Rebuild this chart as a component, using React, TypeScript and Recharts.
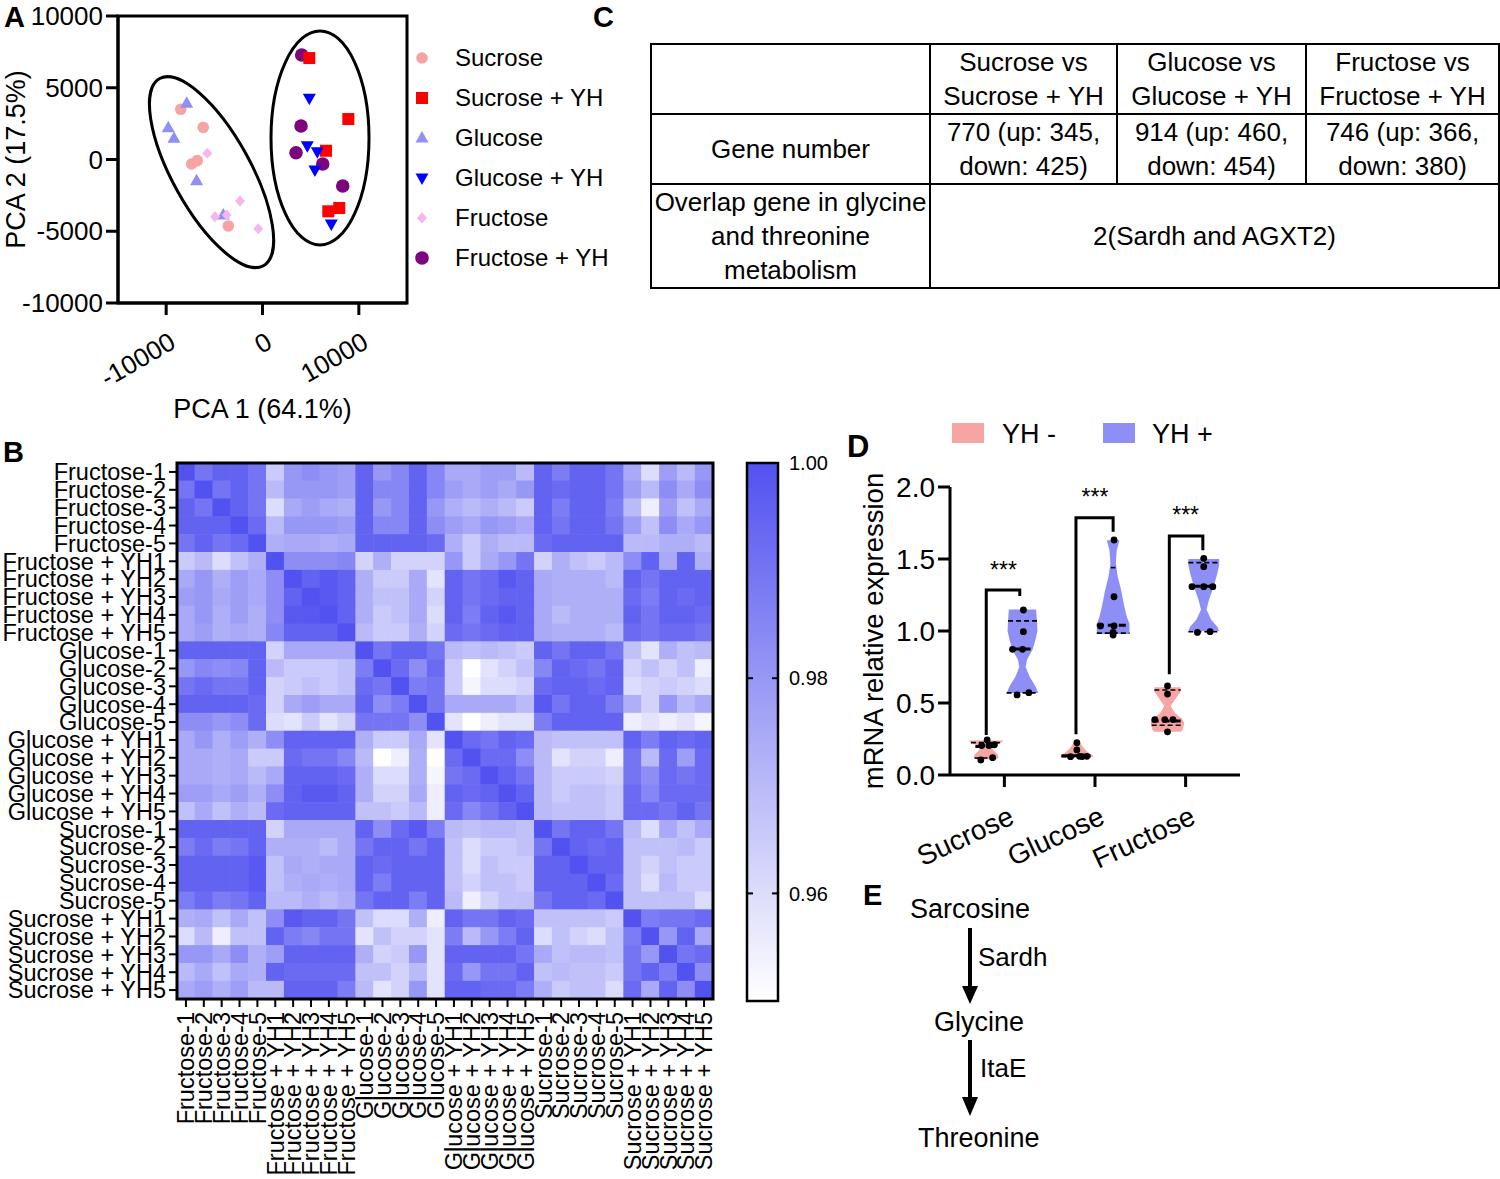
import React from 'react';
import { ScatterChart, Scatter, XAxis, YAxis, Legend } from 'recharts';

const FONT = "'Liberation Sans', Arial, Helvetica, sans-serif";

// ---------------- Panel A : PCA ----------------
const pcaXTicks = [-10000, 0, 10000];
const pcaYTicks = [-10000, -5000, 0, 5000, 10000];
const sucrosePCA = [{ x: -8490, y: 3500 }, { x: -6150, y: 2240 }, { x: -7350, y: -310 }, { x: -6770, y: -80 }, { x: -3550, y: -4630 }];
const sucroseYHPCA = [{ x: 4860, y: 7070 }, { x: 8910, y: 2820 }, { x: 6590, y: 610 }, { x: 6830, y: -3610 }, { x: 7970, y: -3380 }];
const glucosePCA = [{ x: -7870, y: 3920 }, { x: -9780, y: 2220 }, { x: -9190, y: 1480 }, { x: -6840, y: -1480 }, { x: -4070, y: -3870 }];
const glucoseYHPCA = [{ x: 4860, y: 4270 }, { x: 4650, y: 960 }, { x: 5690, y: 540 }, { x: 5440, y: -730 }, { x: 7140, y: -4500 }];
const fructosePCA = [{ x: -5730, y: 430 }, { x: -2340, y: -2890 }, { x: -4930, y: -3990 }, { x: -3720, y: -3870 }, { x: -440, y: -4820 }];
const fructoseYHPCA = [{ x: 4070, y: 7280 }, { x: 4000, y: 2330 }, { x: 3480, y: 470 }, { x: 6250, y: -310 }, { x: 8330, y: -1850 }];
const clusterCentres = [{ id: 0, x: -5290, y: -880 }, { id: 1, x: 5970, y: 1500 }];
const pcaFrame = [{ x: -15000, y: -10000 }, { x: -15000, y: 10000 }, { x: 15000, y: 10000 }, { x: 15000, y: -10000 }, { x: -15000, y: -10000 }];

const pcaSeries = [
  { name: 'Sucrose', data: sucrosePCA, color: '#f6a3a3', marker: 'circle' },
  { name: 'Sucrose + YH', data: sucroseYHPCA, color: '#ff0000', marker: 'square' },
  { name: 'Glucose', data: glucosePCA, color: '#8f8ff5', marker: 'triangle' },
  { name: 'Glucose + YH', data: glucoseYHPCA, color: '#0000ff', marker: 'invTriangle' },
  { name: 'Fructose', data: fructosePCA, color: '#f4b6f0', marker: 'diamond' },
  { name: 'Fructose + YH', data: fructoseYHPCA, color: '#7d067d', marker: 'bigCircle' },
];
const ellipseGeom = [{ rx: 107, ry: 39, rot: 61 }, { rx: 49, ry: 107, rot: 0 }];

// ---------------- Panel B : correlation heatmap ----------------
const sampleLabels = [
  'Fructose-1', 'Fructose-2', 'Fructose-3', 'Fructose-4', 'Fructose-5',
  'Fructose + YH1', 'Fructose + YH2', 'Fructose + YH3', 'Fructose + YH4', 'Fructose + YH5',
  'Glucose-1', 'Glucose-2', 'Glucose-3', 'Glucose-4', 'Glucose-5',
  'Glucose + YH1', 'Glucose + YH2', 'Glucose + YH3', 'Glucose + YH4', 'Glucose + YH5',
  'Sucrose-1', 'Sucrose-2', 'Sucrose-3', 'Sucrose-4', 'Sucrose-5',
  'Sucrose + YH1', 'Sucrose + YH2', 'Sucrose + YH3', 'Sucrose + YH4', 'Sucrose + YH5',
];
const corrMatrix = [
  [1, .990, .995, .995, .990, .965, .980, .983, .980, .978, .995, .980, .985, .995, .985, .975, .975, .978, .978, .970, .995, .988, .995, .995, .990, .975, .960, .978, .970, .980],
  [.990, 1, .990, .995, .990, .970, .980, .980, .980, .978, .995, .985, .985, .995, .985, .978, .975, .978, .975, .980, .995, .993, .995, .995, .990, .978, .970, .983, .975, .983],
  [.995, .990, 1, .995, .990, .960, .975, .978, .975, .973, .995, .980, .985, .995, .980, .973, .970, .973, .970, .965, .995, .988, .995, .995, .988, .970, .955, .978, .968, .975],
  [.995, .995, .995, 1, .993, .970, .980, .980, .980, .978, .995, .985, .985, .995, .983, .978, .975, .980, .978, .975, .995, .990, .995, .995, .990, .978, .968, .983, .975, .980],
  [.990, .995, .990, .993, 1, .973, .975, .975, .973, .975, .995, .995, .995, .995, .993, .973, .965, .973, .970, .970, .993, .995, .995, .995, .995, .970, .970, .973, .973, .970],
  [.965, .970, .960, .968, .973, 1, .983, .983, .983, .985, .963, .973, .963, .963, .963, .980, .965, .975, .980, .990, .963, .973, .968, .965, .970, .983, .995, .975, .995, .973],
  [.975, .980, .973, .978, .975, .983, 1, .995, .998, .995, .973, .965, .965, .975, .958, .995, .990, .993, .998, .995, .975, .973, .973, .973, .970, .995, .990, .995, .995, .995],
  [.978, .980, .975, .978, .975, .983, .995, 1, .998, .995, .973, .968, .968, .975, .963, .995, .990, .993, .995, .995, .975, .973, .973, .973, .973, .993, .988, .995, .993, .995],
  [.975, .980, .973, .978, .973, .983, .998, .998, 1, .995, .973, .965, .968, .975, .960, .995, .988, .995, .998, .995, .975, .970, .973, .973, .973, .995, .990, .995, .995, .993],
  [.975, .978, .973, .975, .973, .985, .995, .995, .995, 1, .970, .965, .965, .973, .963, .993, .990, .993, .995, .995, .975, .973, .973, .973, .970, .993, .990, .993, .993, .990],
  [.995, .995, .995, .995, .995, .963, .975, .975, .975, .975, 1, .990, .995, .995, .990, .970, .968, .970, .968, .965, .995, .990, .995, .995, .990, .968, .958, .973, .968, .970],
  [.980, .985, .983, .985, .995, .970, .965, .965, .965, .968, .988, 1, .993, .983, .993, .965, .950, .958, .963, .968, .985, .995, .993, .990, .995, .963, .968, .963, .968, .955],
  [.990, .993, .990, .990, .995, .963, .965, .968, .965, .968, .993, .990, 1, .988, .990, .965, .953, .960, .960, .963, .993, .995, .995, .993, .995, .960, .963, .965, .963, .960],
  [.995, .995, .995, .995, .993, .963, .975, .978, .975, .975, .995, .983, .988, 1, .990, .975, .975, .975, .975, .970, .998, .990, .995, .995, .988, .973, .963, .980, .970, .975],
  [.983, .983, .980, .983, .993, .960, .958, .965, .958, .963, .990, .990, .990, .983, 1, .958, .950, .955, .958, .958, .988, .995, .995, .995, .995, .955, .958, .955, .958, .953],
  [.975, .980, .973, .978, .973, .983, .995, .995, .995, .995, .973, .965, .965, .975, .958, 1, .993, .990, .995, .993, .970, .968, .968, .968, .968, .995, .988, .995, .993, .995],
  [.975, .975, .973, .975, .965, .965, .993, .990, .990, .985, .970, .950, .955, .973, .950, .993, 1, .993, .993, .983, .970, .958, .963, .963, .955, .990, .970, .993, .978, .993],
  [.975, .975, .973, .975, .970, .975, .995, .995, .995, .993, .973, .960, .960, .973, .953, .990, .993, 1, .995, .990, .970, .965, .965, .965, .963, .990, .983, .993, .990, .993],
  [.978, .978, .975, .978, .973, .983, .995, .998, .998, .995, .973, .963, .963, .975, .955, .995, .993, .995, 1, .995, .970, .965, .968, .968, .965, .993, .985, .993, .993, .993],
  [.968, .975, .968, .973, .970, .993, .995, .995, .995, .995, .968, .968, .965, .970, .955, .993, .985, .990, .995, 1, .970, .968, .968, .968, .965, .993, .993, .990, .995, .990],
  [.995, .995, .995, .995, .995, .963, .975, .975, .975, .975, .995, .983, .993, .998, .988, .970, .968, .970, .970, .968, 1, .990, .995, .995, .990, .970, .960, .975, .968, .975],
  [.988, .993, .988, .990, .995, .973, .973, .973, .970, .975, .990, .995, .995, .990, .995, .968, .960, .965, .965, .968, .990, 1, .995, .993, .995, .968, .968, .968, .970, .965],
  [.995, .995, .995, .995, .998, .968, .975, .973, .975, .975, .995, .993, .995, .995, .995, .968, .960, .968, .965, .965, .995, .995, 1, .995, .995, .968, .963, .968, .965, .965],
  [.995, .995, .995, .995, .998, .968, .973, .975, .973, .975, .995, .988, .995, .995, .995, .968, .963, .968, .968, .965, .995, .995, .995, 1, .993, .968, .960, .970, .965, .965],
  [.988, .993, .988, .990, .995, .970, .970, .973, .970, .973, .990, .995, .995, .988, .995, .970, .955, .963, .968, .968, .990, .995, .995, .993, 1, .968, .968, .968, .968, .960],
  [.973, .975, .968, .975, .968, .983, .998, .995, .995, .990, .968, .960, .960, .973, .955, .995, .990, .990, .995, .993, .968, .968, .968, .968, .965, 1, .988, .990, .990, .993],
  [.960, .970, .955, .968, .968, .995, .988, .985, .990, .990, .958, .968, .963, .963, .958, .988, .970, .980, .988, .995, .960, .968, .963, .960, .968, .988, 1, .980, .995, .975],
  [.980, .980, .975, .983, .973, .978, .995, .995, .995, .995, .973, .963, .965, .980, .958, .995, .995, .995, .995, .990, .975, .968, .970, .970, .968, .990, .980, 1, .990, .993],
  [.970, .975, .968, .975, .973, .995, .993, .993, .993, .993, .968, .968, .963, .970, .958, .993, .980, .990, .990, .995, .968, .970, .968, .968, .965, .990, .995, .988, 1, .983],
  [.975, .978, .973, .978, .970, .970, .995, .995, .995, .988, .970, .958, .963, .980, .958, .995, .995, .993, .993, .988, .973, .965, .968, .968, .960, .993, .975, .995, .983, 1],
];
const colorbarTicks = [1.0, 0.98, 0.96];
const HEAT_MIN = 0.95;
const HEAT_MAX = 1.0;

// ---------------- Panel C : table ----------------
const tableHeaders = [['Sucrose vs', 'Sucrose + YH'], ['Glucose vs', 'Glucose + YH'], ['Fructose vs', 'Fructose + YH']];
const geneNumbers = [['770 (up: 345,', 'down: 425)'], ['914 (up: 460,', 'down: 454)'], ['746 (up: 366,', 'down: 380)']];
const overlapRowLabel = ['Overlap gene in glycine', 'and threonine', 'metabolism'];
const overlapGenes = '2(Sardh and AGXT2)';

// ---------------- Panel D : violin plot ----------------
const exprCategories = ['Sucrose', 'Glucose', 'Fructose'];
const exprYTicks = [0, 0.5, 1.0, 1.5, 2.0];
// [value, half-width]
const yhMinusShape = [
  [[0.24, 0.19], [0.222, 0.16], [0.205, 0.1], [0.187, 0.065], [0.165, 0.09], [0.14, 0.13], [0.12, 0.135], [0.11, 0.115]],
  [[0.225, 0.035], [0.2, 0.06], [0.17, 0.1], [0.15, 0.14], [0.135, 0.18], [0.125, 0.17]],
  [[0.61, 0.145], [0.58, 0.145], [0.53, 0.09], [0.48, 0.035], [0.43, 0.08], [0.39, 0.16], [0.36, 0.185], [0.32, 0.17], [0.3, 0.15]],
];
const yhPlusShape = [
  [[1.15, 0.15], [1.07, 0.16], [1.0, 0.165], [0.93, 0.14], [0.87, 0.11], [0.8, 0.05], [0.75, 0.035], [0.68, 0.08], [0.62, 0.14], [0.57, 0.175]],
  [[1.63, 0.07], [1.56, 0.04], [1.47, 0.03], [1.38, 0.05], [1.28, 0.09], [1.18, 0.12], [1.1, 0.15], [1.05, 0.18], [0.98, 0.18]],
  [[1.5, 0.17], [1.46, 0.17], [1.4, 0.15], [1.31, 0.11], [1.22, 0.06], [1.15, 0.03], [1.08, 0.08], [1.03, 0.15], [1.0, 0.17]],
];
// [value, half-width, isMedian]
const yhMinusQuartiles = [
  [[0.225, 0.17, 0], [0.198, 0.12, 1], [0.118, 0.13, 0]],
  [[0.133, 0.17, 1], [0.127, 0.17, 0]],
  [[0.59, 0.145, 0], [0.375, 0.175, 1], [0.345, 0.175, 0]],
];
const yhPlusQuartiles = [
  [[1.07, 0.16, 0], [0.875, 0.11, 1], [0.57, 0.175, 0]],
  [[1.44, 0.025, 0], [1.04, 0.18, 1], [0.985, 0.18, 0]],
  [[1.475, 0.17, 0], [1.31, 0.11, 1], [0.995, 0.17, 0]],
];
// [x offset from violin centre, value]
const yhMinusPoints = [
  [[0.01, 0.243], [-0.05, 0.205], [0.03, 0.205], [0.09, 0.21], [0.07, 0.12], [-0.06, 0.104]],
  [[0, 0.224], [0, 0.174], [-0.07, 0.127], [0.03, 0.13], [0.06, 0.128], [0.11, 0.13]],
  [[0, 0.618], [0, 0.562], [-0.14, 0.385], [-0.03, 0.385], [0.06, 0.385], [0, 0.3]],
];
const yhPlusPoints = [
  [[0.01, 1.146], [0.01, 0.995], [-0.11, 0.873], [0, 0.873], [-0.06, 0.556], [0.07, 0.572]],
  [[0.01, 1.632], [0.01, 1.238], [-0.14, 1.035], [0.01, 1.035], [0, 0.99], [0, 0.972]],
  [[0, 1.505], [0, 1.447], [-0.13, 1.308], [0, 1.308], [0.1, 1.308], [-0.07, 0.99], [0.07, 0.995]],
];
const sigBrackets = [
  [[-0.2, 0.278], [-0.2, 1.285], [0.17, 1.285], [0.17, 1.243]],
  [[-0.21, 0.283], [-0.21, 1.787], [0.2, 1.787], [0.2, 1.69]],
  [[-0.18, 0.7], [-0.18, 1.66], [0.19, 1.66], [0.19, 1.56]],
];
const sigLabels = [{ x: 0.99, y: 1.458, t: '***' }, { x: 2.0, y: 1.967, t: '***' }, { x: 3.0, y: 1.84, t: '***' }];
const legendD = [{ name: 'YH -', color: '#f7a4a4' }, { name: 'YH +', color: '#8e8ef7' }];
const GROUP_OFFSET = 0.2;

// ---------------- Panel E ----------------
const pathwayNodes = ['Sarcosine', 'Glycine', 'Threonine'];
const pathwayEnzymes = ['Sardh', 'ItaE'];

// ======================================================
const noShape = () => <g />;

function drawMarker(kind: string, cx: number, cy: number, color: string) {
  switch (kind) {
    case 'circle':
      return <circle cx={cx} cy={cy} r={5.8} fill={color} />;
    case 'bigCircle':
      return <circle cx={cx} cy={cy} r={6.8} fill={color} />;
    case 'square':
      return <rect x={cx - 6} y={cy - 6} width={12} height={12} fill={color} />;
    case 'triangle':
      return <polygon points={`${cx},${cy - 7} ${cx + 6.5},${cy + 4.5} ${cx - 6.5},${cy + 4.5}`} fill={color} />;
    case 'invTriangle':
      return <polygon points={`${cx},${cy + 7} ${cx + 6.5},${cy - 4.5} ${cx - 6.5},${cy - 4.5}`} fill={color} />;
    default:
      return <polygon points={`${cx},${cy - 5.5} ${cx + 5},${cy} ${cx},${cy + 5.5} ${cx - 5},${cy}`} fill={color} />;
  }
}

const EllipseShape = (p: any) => {
  const g = ellipseGeom[p.payload.id];
  return (
    <ellipse cx={p.cx} cy={p.cy} rx={g.rx} ry={g.ry} transform={`rotate(${g.rot} ${p.cx} ${p.cy})`}
      fill="none" stroke="#000" strokeWidth={3} />
  );
};

const PcaXTick = (p: any) => (
  <text transform={`translate(${p.x + 2},331) rotate(-30)`} textAnchor="end" dy="0.71em" fontSize={26} fill="#000">
    {p.payload.value}
  </text>
);

const PcaLegend = () => (
  <svg width={230} height={240} style={{ display: 'block', overflow: 'visible' }}>
    {pcaSeries.map((s, i) => (
      <g key={s.name}>
        {drawMarker(s.marker, 17, 20 + i * 40, s.color)}
        <text x={50} y={20 + i * 40} dy="0.35em" fontSize={24} fill="#000" fontFamily={FONT}>{s.name}</text>
      </g>
    ))}
  </svg>
);

function PcaChart() {
  const drawOrder = [5, 0, 1, 2, 3, 4];
  return (
    <ScatterChart width={640} height={440} margin={{ top: 16, right: 233, bottom: 0, left: 0 }}>
      <XAxis type="number" dataKey="x" domain={[-15000, 15000]} ticks={pcaXTicks} interval={0} height={137}
        tickSize={12} tick={<PcaXTick />} axisLine={{ stroke: '#000', strokeWidth: 3 }}
        tickLine={{ stroke: '#000', strokeWidth: 3 }}
        label={{ value: 'PCA 1 (64.1%)', position: 'insideBottom', offset: 22, style: { fontSize: 27, fill: '#000' } }} />
      <YAxis type="number" dataKey="y" domain={[-10000, 10000]} ticks={pcaYTicks} interval={0} width={118}
        tickSize={12} tickMargin={3} tick={{ fontSize: 26, fill: '#000' }}
        axisLine={{ stroke: '#000', strokeWidth: 3 }} tickLine={{ stroke: '#000', strokeWidth: 3 }}
        label={{ value: 'PCA 2 (17.5%)', angle: -90, position: 'insideLeft', offset: 15, style: { fontSize: 27, fill: '#000', textAnchor: 'middle' } }} />
      <Scatter data={clusterCentres} shape={EllipseShape} isAnimationActive={false} />
      {drawOrder.map((k) => {
        const s = pcaSeries[k];
        return (
          <Scatter key={s.name} name={s.name} data={s.data} isAnimationActive={false}
            shape={(p: any) => drawMarker(s.marker, p.cx, p.cy, s.color)} />
        );
      })}
      <Scatter data={pcaFrame} shape={noShape} isAnimationActive={false}
        line={{ stroke: '#000', strokeWidth: 3, strokeLinecap: 'square', fill: 'none' }} />
      <Legend layout="horizontal" align="center" verticalAlign="middle" content={PcaLegend}
        wrapperStyle={{ position: 'absolute', left: 405, top: 38, width: 230, height: 240 }} />
    </ScatterChart>
  );
}

// ---------------- heatmap ----------------
const heatColor = (v: number) => {
  const t = Math.max(0, Math.min(1, (v - HEAT_MIN) / (HEAT_MAX - HEAT_MIN)));
  const r = Math.round(255 - t * (255 - 82));
  const b = Math.round(255 - t * (255 - 240));
  return `rgb(${r},${r},${b})`;
};
const heatCells = corrMatrix.flatMap((row, r) => row.map((v, c) => ({ x: c + 0.5, y: r + 0.5, v })));
const heatTicks = sampleLabels.map((_, i) => i + 0.5);
const heatFrame = [{ x: 0, y: 0 }, { x: 30, y: 0 }, { x: 30, y: 30 }, { x: 0, y: 30 }, { x: 0, y: 0 }];
const CELL = 536 / 30 + 0.6;

const HeatCell = (p: any) => (
  <rect x={p.cx - CELL / 2} y={p.cy - CELL / 2} width={CELL} height={CELL} fill={heatColor(p.payload.v)} />
);
const HeatXTick = (p: any) => (
  <text transform={`translate(${p.x},572) rotate(-90)`} textAnchor="end" dy="0.35em" fontSize={23.5} fill="#000">
    {sampleLabels[Math.floor(p.payload.value)]}
  </text>
);

function HeatmapChart() {
  return (
    <ScatterChart width={740} height={739} margin={{ top: 23, right: 27, bottom: 0, left: 0 }}>
      <XAxis type="number" dataKey="x" domain={[0, 30]} ticks={heatTicks} interval={0} height={180}
        tickSize={8} tick={<HeatXTick />} axisLine={false} tickLine={{ stroke: '#000', strokeWidth: 2 }} />
      <YAxis type="number" dataKey="y" domain={[0, 30]} reversed ticks={heatTicks} interval={0} width={177}
        tickSize={8} tickMargin={3} tickFormatter={(v: number) => sampleLabels[Math.floor(v)]}
        tick={{ fontSize: 23.5, fill: '#000' }} axisLine={false} tickLine={{ stroke: '#000', strokeWidth: 2 }} />
      <Scatter data={heatCells} shape={HeatCell} isAnimationActive={false} />
      <Scatter data={heatFrame} shape={noShape} isAnimationActive={false}
        line={{ stroke: '#000', strokeWidth: 3, strokeLinecap: 'square', fill: 'none' }} />
    </ScatterChart>
  );
}

// ---------------- violin chart ----------------
const violinPolygon = (centre: number, profile: number[][]) => {
  const left = profile.map(([v, hw]) => ({ x: centre - hw, y: v }));
  const right = [...profile].reverse().map(([v, hw]) => ({ x: centre + hw, y: v }));
  return [...left, ...right];
};

const ExprXTick = (p: any) => (
  <text transform={`translate(${p.x + 3},405) rotate(-25)`} textAnchor="end" dy="0.71em" fontSize={28} fill="#000">
    {exprCategories[Math.round(p.payload.value) - 1]}
  </text>
);
const StarShape = (p: any) => (
  <text x={p.cx} y={p.cy + 13} textAnchor="middle" fontSize={23} fill="#000">{p.payload.t}</text>
);
const DotShape = (p: any) => <circle cx={p.cx} cy={p.cy} r={3.4} fill="#000" />;

const ExprLegend = () => (
  <svg width={320} height={44} style={{ display: 'block', overflow: 'visible' }}>
    {legendD.map((l, i) => (
      <g key={l.name}>
        <rect x={i * 151} y={12} width={32} height={20} fill={l.color} />
        <text x={50 + i * 150} y={22} dy="0.36em" fontSize={27} fill="#000" fontFamily={FONT}>{l.name}</text>
      </g>
    ))}
  </svg>
);

function ExpressionChart() {
  const groups = [
    { sign: -1, shapes: yhMinusShape, quart: yhMinusQuartiles, pts: yhMinusPoints, color: legendD[0].color },
    { sign: 1, shapes: yhPlusShape, quart: yhPlusQuartiles, pts: yhPlusPoints, color: legendD[1].color },
  ];
  const series: any[] = [];
  groups.forEach((g, gi) => {
    exprCategories.forEach((_, ci) => {
      const centre = ci + 1 + g.sign * GROUP_OFFSET;
      series.push(
        <Scatter key={`v${gi}${ci}`} data={violinPolygon(centre, g.shapes[ci])} shape={noShape}
          isAnimationActive={false} line={{ stroke: 'none', fill: g.color }} />
      );
    });
  });
  groups.forEach((g, gi) => {
    exprCategories.forEach((_, ci) => {
      const centre = ci + 1 + g.sign * GROUP_OFFSET;
      g.quart[ci].forEach(([v, hw, med], qi) => {
        series.push(
          <Scatter key={`q${gi}${ci}${qi}`} data={[{ x: centre - hw, y: v }, { x: centre + hw, y: v }]}
            shape={noShape} isAnimationActive={false}
            line={{ stroke: '#000', fill: 'none', strokeWidth: med ? 3 : 1.6, strokeDasharray: med ? '7 4' : '5 3' }} />
        );
      });
      series.push(
        <Scatter key={`p${gi}${ci}`} data={g.pts[ci].map(([dx, v]) => ({ x: centre + dx, y: v }))}
          shape={DotShape} isAnimationActive={false} />
      );
    });
  });
  sigBrackets.forEach((b, bi) => {
    series.push(
      <Scatter key={`b${bi}`} data={b.map(([dx, v]) => ({ x: bi + 1 + dx, y: v }))} shape={noShape}
        isAnimationActive={false} line={{ stroke: '#000', strokeWidth: 3, fill: 'none' }} />
    );
  });
  return (
    <ScatterChart width={420} height={480} margin={{ top: 87, right: 20, bottom: 0, left: 0 }}>
      <XAxis type="number" dataKey="x" domain={[0.4, 3.6]} ticks={[1, 2, 3]} interval={0} height={105}
        tickSize={12} tick={<ExprXTick />} axisLine={{ stroke: '#000', strokeWidth: 3 }}
        tickLine={{ stroke: '#000', strokeWidth: 3 }} />
      <YAxis type="number" dataKey="y" domain={[0, 2]} ticks={exprYTicks} interval={0} width={110}
        tickSize={12} tickMargin={3} tickFormatter={(v: number) => v.toFixed(1)}
        tick={{ fontSize: 28, fill: '#000' }} axisLine={{ stroke: '#000', strokeWidth: 3 }}
        tickLine={{ stroke: '#000', strokeWidth: 3 }}
        label={{ value: 'mRNA relative expression', angle: -90, position: 'insideLeft', offset: 33, style: { fontSize: 27.5, fill: '#000', textAnchor: 'middle' } }} />
      {series}
      <Scatter data={sigLabels} shape={StarShape} isAnimationActive={false} />
      <Legend layout="horizontal" align="center" verticalAlign="middle" content={ExprLegend}
        wrapperStyle={{ position: 'absolute', left: 112, top: 11, width: 320, height: 44 }} />
    </ScatterChart>
  );
}

// ---------------- table ----------------
const cellStyle: React.CSSProperties = {
  border: '2px solid #000', textAlign: 'center', verticalAlign: 'middle', padding: 0,
  fontSize: 26, lineHeight: '34px', whiteSpace: 'nowrap',
};
function GeneTable() {
  return (
    <table style={{ position: 'absolute', left: 650, top: 43, width: 848, height: 240, borderCollapse: 'collapse', tableLayout: 'fixed', fontFamily: FONT }}>
      <colgroup>
        <col style={{ width: 279 }} />
        <col style={{ width: 187 }} />
        <col style={{ width: 189 }} />
        <col style={{ width: 193 }} />
      </colgroup>
      <tbody>
        <tr style={{ height: 68 }}>
          <td style={cellStyle} />
          {tableHeaders.map((h) => <td key={h[0]} style={cellStyle}>{h[0]}<br />{h[1]}</td>)}
        </tr>
        <tr style={{ height: 70 }}>
          <td style={cellStyle}>Gene number</td>
          {geneNumbers.map((g) => <td key={g[0]} style={cellStyle}>{g[0]}<br />{g[1]}</td>)}
        </tr>
        <tr style={{ height: 102 }}>
          <td style={cellStyle}>{overlapRowLabel[0]}<br />{overlapRowLabel[1]}<br />{overlapRowLabel[2]}</td>
          <td style={cellStyle} colSpan={3}>{overlapGenes}</td>
        </tr>
      </tbody>
    </table>
  );
}

// ---------------- overlay: colour bar, pathway, panel letters ----------------
function Overlay() {
  const barTop = 463;
  const barH = 538;
  const yOf = (v: number) => barTop + ((HEAT_MAX - v) / (HEAT_MAX - HEAT_MIN)) * barH;
  return (
    <svg width={1500} height={1179} style={{ position: 'absolute', left: 0, top: 0, pointerEvents: 'none' }} fontFamily={FONT}>
      <defs>
        <linearGradient id="cbar" x1="0" y1="0" x2="0" y2="1">
          <stop offset="0%" stopColor={heatColor(HEAT_MAX)} />
          <stop offset="100%" stopColor={heatColor(HEAT_MIN)} />
        </linearGradient>
      </defs>
      <rect x={747} y={barTop} width={31} height={barH} fill="url(#cbar)" stroke="#000" strokeWidth={2.5} />
      {colorbarTicks.map((t) => (
        <g key={t}>
          {t < HEAT_MAX && (
            <>
              <line x1={747} x2={753} y1={yOf(t)} y2={yOf(t)} stroke="#000" strokeWidth={2} />
              <line x1={772} x2={778} y1={yOf(t)} y2={yOf(t)} stroke="#000" strokeWidth={2} />
            </>
          )}
          <text x={789} y={yOf(t)} dy="0.36em" fontSize={20} fill="#000">{t.toFixed(2)}</text>
        </g>
      ))}

      {/* Panel E pathway */}
      <text x={910} y={918} fontSize={27} fill="#000">{pathwayNodes[0]}</text>
      <line x1={970} y1={928} x2={970} y2={990} stroke="#000" strokeWidth={4} />
      <polygon points="962,986 978,986 970,1004" fill="#000" />
      <text x={978} y={966} fontSize={26} fill="#000">{pathwayEnzymes[0]}</text>
      <text x={934} y={1031} fontSize={27} fill="#000">{pathwayNodes[1]}</text>
      <line x1={970} y1={1040} x2={970} y2={1100} stroke="#000" strokeWidth={4} />
      <polygon points="962,1097 978,1097 970,1116" fill="#000" />
      <text x={980} y={1077} fontSize={26} fill="#000">{pathwayEnzymes[1]}</text>
      <text x={918} y={1147} fontSize={27} fill="#000">{pathwayNodes[2]}</text>

      {/* panel letters */}
      <text x={4} y={27} fontSize={29} fontWeight="bold" fill="#000">A</text>
      <text x={3} y={462} fontSize={29} fontWeight="bold" fill="#000">B</text>
      <text x={593} y={27} fontSize={29} fontWeight="bold" fill="#000">C</text>
      <text x={847} y={457} fontSize={31} fontWeight="bold" fill="#000">D</text>
      <text x={863} y={905} fontSize={29} fontWeight="bold" fill="#000">E</text>
    </svg>
  );
}

export default function App() {
  return (
    <div style={{ position: 'absolute', left: 0, top: 0, width: 1500, height: 1179, background: '#fff', fontFamily: FONT, color: '#000', overflow: 'hidden' }}>
      <div style={{ position: 'absolute', left: 0, top: 0 }}><PcaChart /></div>
      <div style={{ position: 'absolute', left: 0, top: 440 }}><HeatmapChart /></div>
      <GeneTable />
      <div style={{ position: 'absolute', left: 840, top: 400 }}><ExpressionChart /></div>
      <Overlay />
    </div>
  );
}
